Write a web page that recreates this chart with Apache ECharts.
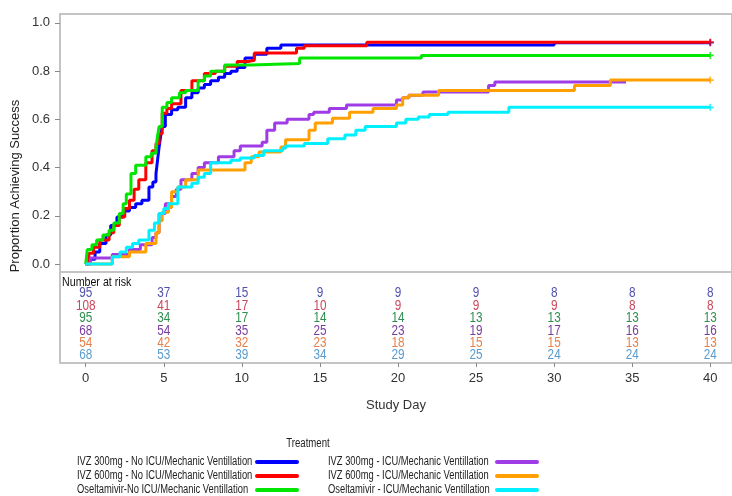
<!DOCTYPE html>
<html><head><meta charset="utf-8">
<script src="https://cdn.jsdelivr.net/npm/echarts@6/dist/echarts.min.js"></script>
<style>html,body{margin:0;padding:0;background:#fff}#c{width:732px;height:496px}</style>
</head><body><div id="c"></div>
<script>
// ---- data ----
const seriesNames = [
  'IVZ 300mg - No ICU/Mechanic Ventillation',
  'IVZ 600mg - No ICU/Mechanic Ventillation',
  'Oseltamivir-No ICU/Mechanic Ventillation',
  'IVZ 300mg - ICU/Mechanic Ventillation',
  'IVZ 600mg - ICU/Mechanic Ventillation',
  'Oseltamivir - ICU/Mechanic Ventillation'
];
const blueT = [0,0.25,0.6,0.9,1.3,1.6,2.0,2.4,2.8,3.2,3.6,4.05,4.3,4.5,4.6,4.7,4.8,4.9,5.1,5.5,5.9,6.4,6.8,7.2,7.6,8.0,8.5,8.9,9.3,9.7,10.2,10.8,11.6,12.5,30.0,40];
const blueP = [0,0.02,0.05,0.085,0.12,0.16,0.195,0.22,0.235,0.25,0.265,0.32,0.34,0.375,0.43,0.485,0.53,0.57,0.62,0.64,0.65,0.69,0.71,0.73,0.745,0.76,0.775,0.79,0.80,0.815,0.855,0.87,0.895,0.908,0.918,0.918];
const redT = [0,0.2,0.5,0.9,1.5,1.8,2.15,2.5,2.8,3.1,3.4,3.85,4.25,4.5,4.7,4.9,5.2,5.5,6.1,6.8,7.6,8.3,8.9,9.7,10.4,10.8,13.5,14.0,18.0,40];
const redP = [0,0.045,0.07,0.10,0.13,0.16,0.195,0.23,0.265,0.31,0.35,0.42,0.47,0.50,0.54,0.625,0.645,0.665,0.72,0.76,0.79,0.80,0.82,0.84,0.845,0.875,0.895,0.905,0.92,0.92];
const greenT = [0,0.1,0.4,0.7,1.1,1.5,1.8,2.15,2.4,2.6,2.9,3.2,3.85,4.2,4.5,4.6,4.7,4.9,5.2,5.5,6.0,6.4,7.2,7.6,8.0,8.9,10.6,13.7,21.5,40];
const greenP = [0,0.06,0.08,0.10,0.12,0.14,0.17,0.21,0.25,0.29,0.375,0.41,0.445,0.46,0.485,0.53,0.57,0.65,0.67,0.69,0.71,0.72,0.76,0.78,0.80,0.825,0.832,0.855,0.865,0.865];
const purpleT = [0,0.3,1.7,2.8,3.5,4.25,4.5,4.7,5.1,5.5,5.8,6.1,6.8,7.2,7.6,8.5,9.5,9.9,11.3,11.6,12.1,12.9,14.3,14.6,15.6,16.7,19.9,20.3,20.7,21.6,25.8,26.2,34.6];
const purpleP = [0,0.025,0.04,0.06,0.08,0.11,0.13,0.21,0.25,0.28,0.31,0.35,0.375,0.40,0.42,0.445,0.47,0.49,0.505,0.555,0.585,0.60,0.62,0.63,0.645,0.66,0.68,0.69,0.70,0.713,0.74,0.755,0.755];
const orangeT = [0,1.5,1.7,2.8,3.85,4.5,4.7,4.9,5.3,5.5,5.9,6.4,7.2,10.2,10.6,11.1,12.5,12.8,14.3,14.7,15.8,16.9,18.4,19.9,20.3,20.7,22.6,31.3,33.6,40];
const orangeP = [0,0,0.03,0.05,0.085,0.13,0.18,0.215,0.235,0.30,0.32,0.35,0.39,0.42,0.445,0.465,0.485,0.515,0.555,0.585,0.605,0.63,0.645,0.66,0.69,0.70,0.72,0.74,0.763,0.763];
const cyanT = [0,1.5,1.7,2.2,2.6,3.0,3.4,4.05,4.4,4.7,5.0,5.3,5.9,6.8,7.2,7.6,8.0,9.3,9.9,10.8,11.4,12.6,12.8,14.0,15.5,16.6,17.3,17.9,19.9,20.5,21.3,22.0,23.2,27.1,40];
const cyanP = [0,0,0.03,0.05,0.07,0.085,0.10,0.14,0.17,0.21,0.23,0.25,0.32,0.335,0.36,0.375,0.42,0.43,0.44,0.45,0.47,0.48,0.49,0.50,0.52,0.535,0.555,0.57,0.585,0.60,0.61,0.62,0.63,0.65,0.65];

const yTicks = [0, 0.2, 0.4, 0.6, 0.8, 1.0];
const xTicks = [0, 5, 10, 15, 20, 25, 30, 35, 40];
const riskDays = [0, 5, 10, 15, 20, 25, 30, 35, 40];
const risk1 = [95, 37, 15, 9, 9, 9, 8, 8, 8];
const risk2 = [108, 41, 17, 10, 9, 9, 9, 8, 8];
const risk3 = [95, 34, 17, 14, 14, 13, 13, 13, 13];
const risk4 = [68, 54, 35, 25, 23, 19, 17, 16, 16];
const risk5 = [54, 42, 32, 23, 18, 15, 15, 13, 13];
const risk6 = [68, 53, 39, 34, 29, 25, 24, 24, 24];

// ---- styling ----
const lineColors = ['#0000ff', '#ff0000', '#00e600', '#a03ce6', '#ffa000', '#00f0ff'];
const riskColors = ['#5050b0', '#c8485c', '#2f8f50', '#7a3a9e', '#e8804a', '#5a9ccc'];
const regular = "'Liberation Sans', Arial, sans-serif";
const NARROW = 0.78;   // horizontal squeeze imitating a narrow typeface
const xMin = -1.646, xMax = 41.39;

const curves = [[blueT, blueP], [redT, redP], [greenT, greenP], [purpleT, purpleP], [orangeT, orangeP], [cyanT, cyanP]];
const risks = [risk1, risk2, risk3, risk4, risk5, risk6];

const series = [];
curves.forEach(([t, p], i) => {
  series.push({
    name: seriesNames[i], type: 'line', step: 'end', xAxisIndex: 0, yAxisIndex: 0,
    symbol: 'none', data: t.map((d, k) => [d, p[k]]),
    lineStyle: { color: lineColors[i], width: 3 }, itemStyle: { color: lineColors[i] }
  });
});
// end-of-curve censor marks
[0, 1, 2, 4, 5].forEach(i => {
  const [t, p] = curves[i];
  series.push({
    type: 'scatter', xAxisIndex: 0, yAxisIndex: 0, silent: true,
    symbol: 'path://M3,0H5V3H8V5H5V8H3V5H0V3H3Z', symbolSize: 7,
    itemStyle: { color: lineColors[i] },
    data: [[t[t.length - 1], p[p.length - 1]]]
  });
});
// number-at-risk table (custom series placed through the table's axes)
const riskData = [];
risks.forEach((r, i) => riskDays.forEach((d, k) => riskData.push([d, i + 1, r[k], i])));
series.push({
  type: 'custom', xAxisIndex: 1, yAxisIndex: 1, silent: true,
  data: riskData,
  renderItem: (params, api) => {
    const pt = api.coord([api.value(0), api.value(1)]);
    return {
      type: 'text', x: pt[0], y: pt[1], scaleX: 0.84,
      style: { text: String(api.value(2)), fill: riskColors[api.value(3)], font: '14px ' + regular, align: 'center', verticalAlign: 'middle' }
    };
  }
});

// legend drawn as graphics (text on the left, line sample on the right)
const legendGraphics = [];
const legendCols = [{ tx: 77, lx: 255 }, { tx: 328, lx: 495 }];
const legendRowY = [462, 476, 490];
seriesNames.forEach((nm, i) => {
  const col = legendCols[Math.floor(i / 3)], y = legendRowY[i % 3];
  legendGraphics.push({ type: 'text', x: col.tx, y: y, scaleX: NARROW,
    style: { text: nm, font: '12px ' + regular, fill: '#222', align: 'left', verticalAlign: 'middle' } });
  legendGraphics.push({ type: 'rect', shape: { x: col.lx, y: y - 2, width: 44, height: 4, r: 2 },
    style: { fill: lineColors[i] } });
});

const chart = echarts.init(document.getElementById('c'), null, { renderer: 'canvas' });
chart.setOption({
  animation: false,
  backgroundColor: '#fff',
  grid: [
    { left: 60, top: 14, width: 680, height: 258, show: true, borderColor: '#c4c4c4', borderWidth: 2, backgroundColor: 'transparent' },
    { left: 60, top: 272, width: 680, height: 91, show: true, borderColor: '#c4c4c4', borderWidth: 2, backgroundColor: 'transparent' }
  ],
  xAxis: [
    { gridIndex: 0, type: 'value', min: xMin, max: xMax, axisLine: { show: false, onZero: false }, axisTick: { show: false }, axisLabel: { show: false }, splitLine: { show: false } },
    { gridIndex: 1, type: 'value', min: xMin, max: xMax, position: 'bottom', axisLine: { show: false, onZero: false },
      axisTick: { show: true, customValues: xTicks, length: 4, lineStyle: { color: '#888' } },
      axisLabel: { customValues: xTicks, color: '#333', fontSize: 13, fontFamily: regular, margin: 9 },
      splitLine: { show: false },
      name: 'Study Day', nameLocation: 'middle', nameGap: 36, nameTextStyle: { color: '#333', fontSize: 13, fontFamily: regular } }
  ],
  yAxis: [
    { gridIndex: 0, type: 'value', min: -0.033, max: 1.037, position: 'left', axisLine: { show: false, onZero: false },
      axisTick: { show: true, customValues: yTicks, length: 5, lineStyle: { color: '#888' } },
      axisLabel: { customValues: yTicks, formatter: v => v.toFixed(1), color: '#333', fontSize: 13, fontFamily: regular, margin: 10 },
      splitLine: { show: false } },
    { gridIndex: 1, type: 'value', inverse: true, min: -0.734, max: 6.605, show: false, axisLine: { onZero: false } }
  ],
  graphic: [
    { type: 'text', x: 62, y: 282, scaleX: 0.82, style: { text: 'Number at risk', font: '13px ' + regular, fill: '#111', align: 'left', verticalAlign: 'middle' } },
    { type: 'text', x: 15, y: 186, rotation: Math.PI / 2, style: { text: 'Proportion Achieving Success', font: '13px ' + regular, fill: '#222', align: 'center', verticalAlign: 'middle' } },
    { type: 'text', x: 308, y: 444, scaleX: 0.8, style: { text: 'Treatment', font: '12px ' + regular, fill: '#222', align: 'center', verticalAlign: 'middle' } }
  ].concat(legendGraphics),
  series: series
});
</script></body></html>
